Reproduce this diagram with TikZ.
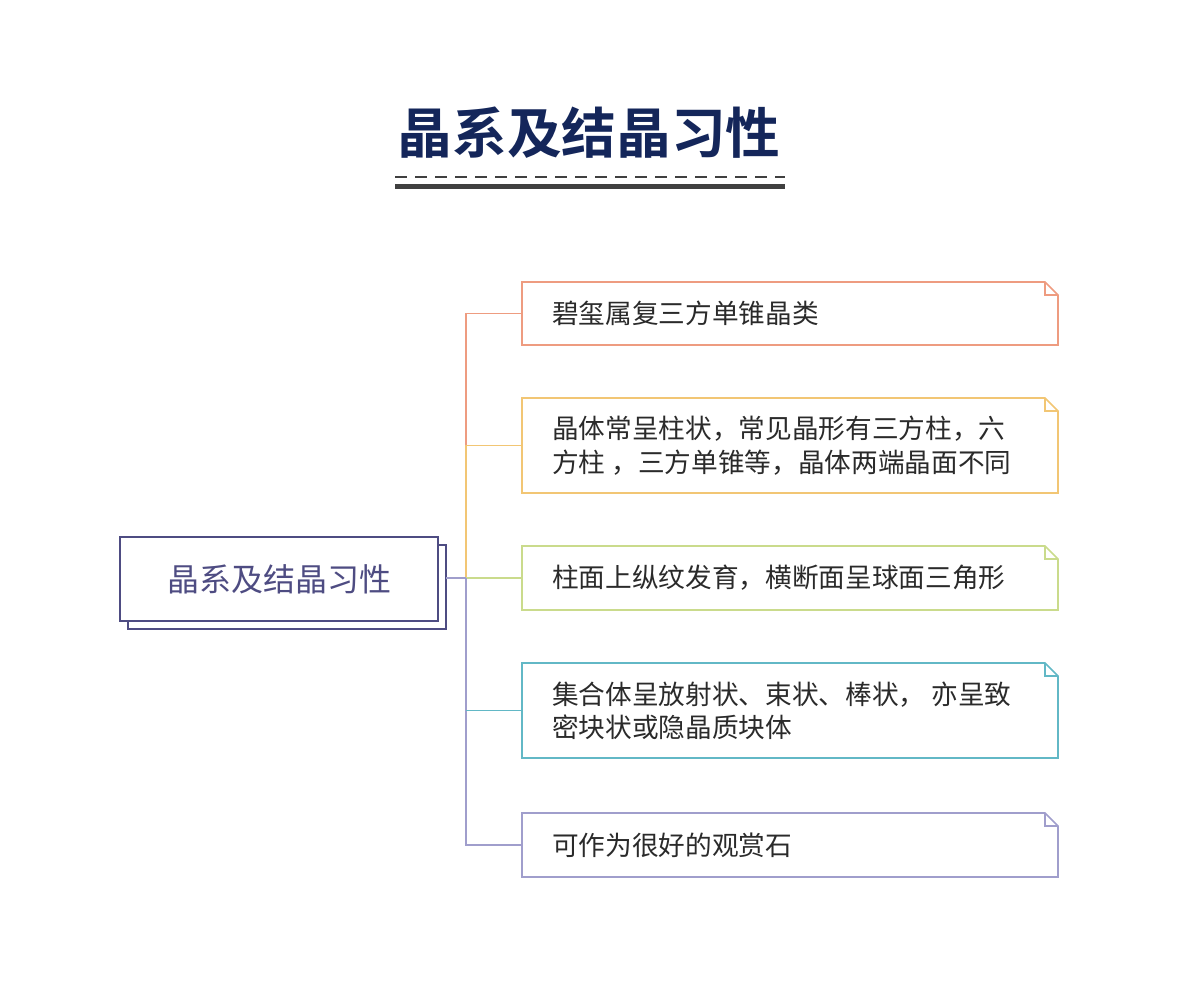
\documentclass[tikz,border=0pt]{standalone}
\usepackage{fontspec}
\newfontfamily\cjk{Noto Sans CJK SC}
\newfontfamily\cjkb{Noto Sans CJK SC Bold}
\definecolor{cO}{HTML}{EE9C80}
\definecolor{cY}{HTML}{F2C674}
\definecolor{cG}{HTML}{CADB8C}
\definecolor{cT}{HTML}{62B8C6}
\definecolor{cP}{HTML}{A09ECC}
\definecolor{rootc}{HTML}{4E4C82}
\definecolor{titlec}{HTML}{14265A}
\definecolor{txt}{HTML}{2A2A2A}
\begin{document}
\begin{tikzpicture}[x=0.75pt,y=-0.75pt,
  leaf/.style={line width=1.3pt},
  ltext/.style={anchor=west,align=left,font=\cjk\fontsize{20}{25}\selectfont,text=txt,inner sep=0pt},
  conn/.style={line width=1.3pt}]
\useasboundingbox (0,0) rectangle (1179,983);
\node[font=\cjkb\fontsize{41}{44}\selectfont,text=titlec] (title) at (589,133) {晶系及结晶习性};
\draw[dash pattern=on 9pt off 6pt,line width=2pt,color=black!75] (395,177) -- (785,177);
\draw[line width=4pt,color=black!75] (395,186.5) -- (785,186.5);
% root
\draw[rootc,line width=1.3pt,fill=white] (128,545) rectangle (446,629);
\draw[rootc,line width=1.3pt,fill=white] (120,537) rectangle (438,621);
\node[font=\cjk\fontsize{24}{26}\selectfont,text=rootc] (root) at (279,579) {晶系及结晶习性};
\coordinate (rootR) at (446,578);
% leaves
\newcommand\leafbox[5]{%
 \draw[#1,leaf] (522,#2) -- (1045,#2) -- (1058,#2+13) -- (1058,#3) -- (522,#3) -- cycle;
 \draw[#1,leaf] (1045,#2) -- (1045,#2+13) -- (1058,#2+13);
 \coordinate (#4) at (522,{(#2+#3)/2});
 \node[ltext] (#4t) at (552,{(#2+#3)/2}) {#5};}
\leafbox{cO}{282}{345}{b1}{碧玺属复三方单锥晶类}
\leafbox{cY}{398}{493}{b2}{晶体常呈柱状，常见晶形有三方柱，六\\方柱 ，三方单锥等，晶体两端晶面不同}
\leafbox{cG}{546}{610}{b3}{柱面上纵纹发育，横断面呈球面三角形}
\leafbox{cT}{663}{758}{b4}{集合体呈放射状、束状、棒状， 亦呈致\\密块状或隐晶质块体}
\leafbox{cP}{813}{877}{b5}{可作为很好的观赏石}
\coordinate (s1) at (466,313.5);
\coordinate (s2) at (466,445.5);
\coordinate (s3) at (466,578);
\coordinate (s4) at (466,710.5);
\coordinate (s5) at (466,845);
\draw[cO,conn] (s2) -- (s1) -- (b1);
\draw[cY,conn] (s3) -- (s2) -- (b2);
\draw[cG,conn] (s3) -- (b3);
\draw[cP,conn] (s3) -- (s5) -- (b5);
\draw[cT,conn] (s4) -- (b4);
\draw[cP,conn] (rootR) -- (s3);
\end{tikzpicture}
\end{document}
